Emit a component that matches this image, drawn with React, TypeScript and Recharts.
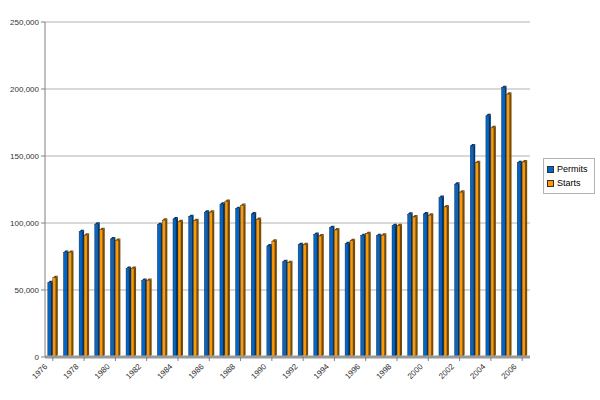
import React from 'react';
import { BarChart, Bar, XAxis, YAxis, CartesianGrid } from 'recharts';

const years = [
  1976, 1977, 1978, 1979, 1980, 1981, 1982, 1983, 1984, 1985, 1986, 1987, 1988, 1989, 1990, 1991,
  1992, 1993, 1994, 1995, 1996, 1997, 1998, 1999, 2000, 2001, 2002, 2003, 2004, 2005, 2006,
];

const permits = [
  55400, 78000, 93500, 99000, 88000, 66000, 57000, 98700, 103000, 104700, 108000, 114000, 110700,
  106700, 82800, 71000, 83800, 91500, 96500, 84600, 90500, 90500, 98000, 106500, 106700, 119000,
  129000, 157500, 180000, 201000, 145000,
];

const starts = [
  59200, 78000, 90800, 95000, 87000, 66000, 57000, 102000, 101000, 101700, 108000, 116000, 113000,
  102700, 86300, 70400, 83800, 90300, 94800, 86800, 92000, 90800, 98000, 104500, 105700, 112000,
  123000, 145000, 171000, 196000, 145500,
];

const yTicks = [0, 50000, 100000, 150000, 200000, 250000];

const series = [
  { key: 'permits', name: 'Permits', color: '#0066cc', side: '#00356b' },
  { key: 'starts', name: 'Starts', color: '#ff9900', side: '#7a4a00' },
];

const data = years.map((year, i) => ({ year, permits: permits[i], starts: starts[i] }));

const fmt = (v: number) => v.toLocaleString('en-US');
const font = "'Liberation Sans', Arial, sans-serif";

const makeBar = (color: string, side: string) => (props: any) => {
  const { x, y, width, height } = props;
  if (height == null || height <= 0) return null;
  const d = 2;
  const fw = Math.max(width - d, 1);
  return (
    <g>
      <polygon
        points={`${x},${y} ${x + d},${y - d} ${x + fw + d},${y - d} ${x + fw},${y}`}
        fill={side}
      />
      <polygon
        points={`${x + fw},${y} ${x + fw + d},${y - d} ${x + fw + d},${y + height - d} ${x + fw},${y + height}`}
        fill={side}
      />
      <rect x={x} y={y} width={fw} height={height} fill={color} stroke="#222" strokeWidth={0.4} />
    </g>
  );
};

const XTick = (props: any) => {
  const { x, y, payload } = props;
  return (
    <g transform={`translate(${x - 5},${y + 4})`}>
      <text textAnchor="end" transform="rotate(-45)" fontSize={8} fill="#333" fontFamily={font}>
        {payload.value}
      </text>
    </g>
  );
};

const LegendBox = () => (
  <div
    style={{
      position: 'absolute',
      left: 543,
      top: 158,
      border: '1px solid #b3b3b3',
      background: '#fff',
      padding: '3px 6px 3px 3px',
      fontFamily: font,
      fontSize: 9,
      color: '#000',
      whiteSpace: 'nowrap',
    }}
  >
    {series.map((s) => (
      <div key={s.key} style={{ display: 'flex', alignItems: 'center', height: 14 }}>
        <span
          style={{
            width: 5,
            height: 5,
            flexShrink: 0,
            background: s.color,
            border: '1px solid #333',
            marginRight: 3,
            display: 'inline-block',
          }}
        />
        {s.name}
      </div>
    ))}
  </div>
);

export default function App() {
  return (
    <div style={{ position: 'absolute', left: 0, top: 0, width: 600, height: 400, background: '#fff' }}>
      <BarChart
        width={600}
        height={400}
        data={data}
        margin={{ top: 22, right: 70, left: 0, bottom: 0 }}
        barCategoryGap="18%"
        barGap={0}
      >
        <CartesianGrid vertical={false} stroke="#b3b3b3" />
        <XAxis
          dataKey="year"
          interval={1}
          tick={<XTick />}
          tickSize={4}
          tickLine={{ stroke: '#808080' }}
          axisLine={{ stroke: '#999', strokeWidth: 3 }}
          height={43}
        />
        <YAxis
          domain={[0, 250000]}
          ticks={yTicks}
          tickFormatter={fmt}
          width={45}
          tickSize={4}
          tickLine={{ stroke: '#808080' }}
          axisLine={{ stroke: '#808080' }}
          tick={{ fontSize: 8, fill: '#333', fontFamily: font }}
        />
        <YAxis
          yAxisId="r"
          orientation="right"
          domain={[0, 250000]}
          width={0}
          tick={false}
          tickLine={false}
          axisLine={{ stroke: '#b3b3b3' }}
        />
        {series.map((s) => (
          <Bar
            key={s.key}
            dataKey={s.key}
            name={s.name}
            fill={s.color}
            shape={makeBar(s.color, s.side)}
            isAnimationActive={false}
          />
        ))}
      </BarChart>
      <LegendBox />
    </div>
  );
}
